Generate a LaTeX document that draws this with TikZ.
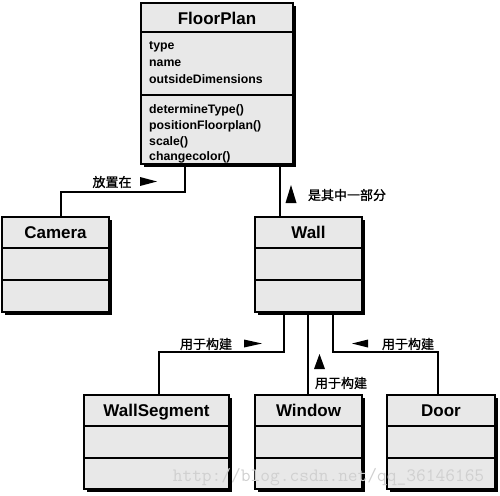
\documentclass[tikz,border=0pt]{standalone}
\usepackage{fontspec}
\setmainfont{Liberation Sans}
\newfontfamily\cjk[FakeBold=1.2]{Noto Sans CJK SC}
\usetikzlibrary{shadows}
\definecolor{boxfill}{HTML}{E8E8E8}
\definecolor{wmgray}{HTML}{D0D0D0}
\tikzset{
  cls/.style={draw=black, line width=1.4pt, fill=boxfill, inner sep=0pt, outer sep=0pt,
    anchor=north west, minimum height=95pt,
    drop shadow={shadow xshift=3pt, shadow yshift=-3pt, fill=black, opacity=1}},
  divider/.style={draw=black, line width=1.3pt},
  ctitle/.style={font=\bfseries\fontsize{17}{20}\selectfont, anchor=base, inner sep=0pt},
  member/.style={font=\bfseries\fontsize{12.3}{15}\selectfont, anchor=base west, inner sep=0pt},
  conn/.style={draw=black, line width=1.3pt},
  rel/.style={font=\cjk\fontsize{13}{15}\selectfont, inner sep=0pt},
  tri/.style={fill=black}
}
\begin{document}
\begin{tikzpicture}[x=1pt,y=-1pt]
\useasboundingbox (0,0) rectangle (500,495);
% FloorPlan
\node[cls, minimum width=152pt, minimum height=161pt] (fp) at (141,3) {};
\draw[divider] (141,32) -- (293,32);
\draw[divider] (141,95) -- (293,95);
\node[ctitle] (fpt) at (217,25) {FloorPlan};
\node[member] (a1) at (149,50) {type};
\node[member] (a2) at (149,66.5) {name};
\node[member] (a3) at (149,83) {outsideDimensions};
\node[member] (m1) at (149,113) {determineType()};
\node[member] (m2) at (149,129.5) {positionFloorplan()};
\node[member] (m3) at (149,145) {scale()};
\node[member] (m4) at (149,160.5) {changecolor()};
% Camera
\node[cls, minimum width=107pt] (cam) at (2,217) {};
\draw[divider] (2,248) -- (109,248);
\draw[divider] (2,280) -- (109,280);
\node[ctitle] (camt) at (55.5,238.5) {Camera};
% Wall
\node[cls, minimum width=107pt] (wall) at (255,217) {};
\draw[divider] (255,248) -- (362,248);
\draw[divider] (255,280) -- (362,280);
\node[ctitle] (wallt) at (308.5,238.5) {Wall};
% WallSegment
\node[cls, minimum width=145pt, minimum height=94pt] (ws) at (84,395) {};
\draw[divider] (84,426) -- (229,426);
\draw[divider] (84,458) -- (229,458);
\node[ctitle] (wst) at (156.5,416) {WallSegment};
% Window
\node[cls, minimum width=107pt, minimum height=94pt] (win) at (255,395) {};
\draw[divider] (255,426) -- (362,426);
\draw[divider] (255,458) -- (362,458);
\node[ctitle] (wint) at (308.5,416) {Window};
% Door
\node[cls, minimum width=108pt, minimum height=94pt] (door) at (387,395) {};
\draw[divider] (387,426) -- (495,426);
\draw[divider] (387,458) -- (495,458);
\node[ctitle] (doort) at (441,416) {Door};
% connectors
\draw[conn] ([xshift=59pt]cam.north west) -- ++(0,-25) -| ([xshift=44pt]fp.south west);
\draw[conn] ([xshift=25pt]wall.north west) -- ([xshift=25pt]wall.north west |- fp.south);
\draw[conn] ([xshift=29pt]wall.south west) -- ++(0,40) -| ([xshift=75pt]ws.north west);
\draw[conn] ([xshift=53pt]wall.south west) -- ([xshift=53pt]wall.south west |- win.north);
\draw[conn] ([xshift=78pt]wall.south west) -- ++(0,40) -| ([xshift=51pt]door.north west);
% labels
\node[rel] (l1) at (112,182) {放置在};
\fill[tri] (140,177) -- (157,181.5) -- (140,186) -- cycle;
\node[rel] (l2) at (347,195) {是其中一部分};
\fill[tri] (285.5,203) -- (291,185) -- (296.5,203) -- cycle;
\node[rel] (l3) at (206,344) {用于构建};
\fill[tri] (244,339.5) -- (262,343.5) -- (244,347.5) -- cycle;
\node[rel] (l4) at (341,383) {用于构建};
\fill[tri] (314,369) -- (319.5,354) -- (325,369) -- cycle;
\node[rel] (l5) at (408,344) {用于构建};
\fill[tri] (368,339.5) -- (352,343.5) -- (368,347.5) -- cycle;
% watermark
\node[font=\ttfamily\fontsize{18.9}{20}\selectfont, text=wmgray, inner sep=0pt, anchor=base] (wm) at (328.5,481) {http://blog.csdn.net/qq\_36146165};
\end{tikzpicture}
\end{document}
